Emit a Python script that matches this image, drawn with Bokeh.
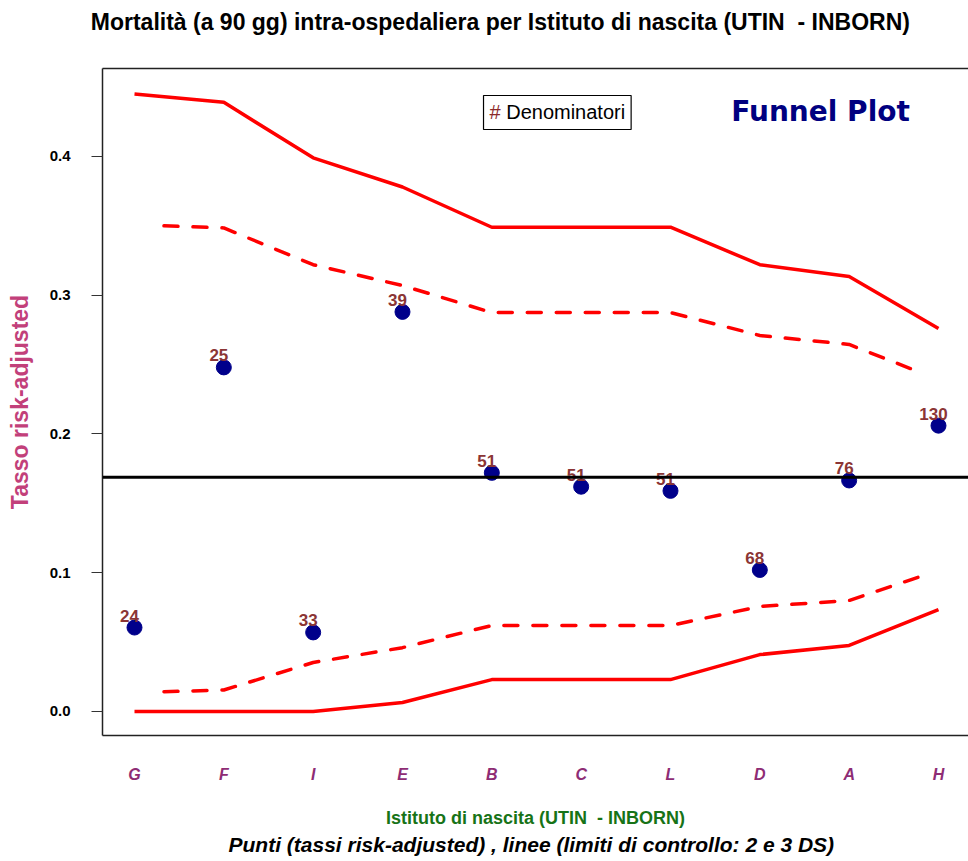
from bokeh.plotting import figure
from bokeh.models import (Range1d, LinearAxis, FixedTicker, Span, Label, Title,
                          NumeralTickFormatter, ColumnDataSource)
from bokeh.core.properties import value
from bokeh.embed import file_html
from bokeh.resources import INLINE

# ---------------- data ----------------
institutes = ["G", "F", "I", "E", "B", "C", "L", "D", "A", "H"]
denominators = [24, 25, 33, 39, 51, 51, 51, 68, 76, 130]
rates = [0.0605, 0.248, 0.057, 0.288, 0.172, 0.162, 0.159, 0.102, 0.1665, 0.206]
overall_rate = 0.1688

upper_3sd = [0.445, 0.439, 0.399, 0.378, 0.349, 0.349, 0.349, 0.322, 0.3135, 0.276]
lower_3sd = [0.0, 0.0, 0.0, 0.0065, 0.023, 0.023, 0.023, 0.041, 0.0476, 0.0735]

limit_2sd_pos = [1.33, 2, 3, 4, 5, 6, 7, 8, 9, 9.83]
upper_2sd = [0.350, 0.3485, 0.322, 0.307, 0.2875, 0.2875, 0.2875, 0.271, 0.2645, 0.2435]
lower_2sd = [0.0142, 0.0155, 0.0353, 0.046, 0.062, 0.062, 0.062, 0.0757, 0.080, 0.098]

y_ticks = [0.0, 0.1, 0.2, 0.3, 0.4]

title_text = "Mortalit\u00e0 (a 90 gg) intra-ospedaliera per Istituto di nascita (UTIN\u00a0 - INBORN)"
x_title = "Istituto di nascita (UTIN\u00a0 - INBORN)"
x_subtitle = "Punti (tassi risk-adjusted) , linee (limiti di controllo: 2 e 3 DS)"
y_title = "Tasso risk-adjusted"

pos = list(range(1, len(institutes) + 1))
FONT = "Liberation Sans"

# ---------------- figure ----------------
p = figure(frame_width=866, frame_height=667,
           min_border_left=102, min_border_right=0, min_border_top=68, min_border_bottom=126,
           x_range=Range1d(0.6418, 10.336), y_range=Range1d(-0.0173, 0.4634),
           output_backend="svg", toolbar_location=None, background_fill_color="white",
           border_fill_color="white")
p.outline_line_color = None
p.xgrid.visible = False
p.ygrid.visible = False

# x axis
xa = p.xaxis[0]
xa.ticker = FixedTicker(ticks=pos)
xa.major_label_overrides = {i: n for i, n in zip(pos, institutes)}
xa.major_label_text_font = FONT
xa.major_label_text_font_style = "bold italic"
xa.major_label_text_font_size = "16px"
xa.major_label_text_color = "#8E2C74"
xa.major_tick_out = 0
xa.major_tick_in = 0
xa.minor_tick_out = 0
xa.minor_tick_in = 0
xa.major_label_standoff = 30
xa.axis_line_color = "#222222"
xa.axis_line_width = 1.5
xa.axis_label = x_title
xa.axis_label_text_font = FONT
xa.axis_label_text_font_style = "bold"
xa.axis_label_text_font_size = "18px"
xa.axis_label_text_color = "#177317"
xa.axis_label_standoff = 22

# y axis
ya = p.yaxis[0]
ya.ticker = FixedTicker(ticks=y_ticks)
ya.formatter = NumeralTickFormatter(format="0.0")
ya.major_label_text_font = FONT
ya.major_label_text_font_style = "bold"
ya.major_label_text_font_size = "15px"
ya.major_label_text_color = "black"
ya.major_tick_out = 11
ya.major_tick_in = 0
ya.minor_tick_out = 0
ya.minor_tick_in = 0
ya.major_tick_line_color = "#333333"
ya.major_label_standoff = 21
ya.axis_line_color = "#222222"
ya.axis_line_width = 1.5
ya.axis_label = y_title
ya.axis_label_text_font = FONT
ya.axis_label_text_font_style = "bold"
ya.axis_label_text_font_size = "23px"
ya.axis_label_text_color = "#C2407A"
ya.axis_label_standoff = 14

# top frame line, carrying the main title as its label
# (trailing no-break spaces shift the centred title slightly left, as in the original)
top_axis = LinearAxis(ticker=FixedTicker(ticks=[]), major_tick_out=0, major_tick_in=0,
                      minor_tick_out=0, minor_tick_in=0, major_label_text_font_size="0px",
                      axis_line_color="#222222", axis_line_width=1.5,
                      axis_label=title_text + "\u00a0" * 11, axis_label_text_font=FONT,
                      axis_label_text_font_style="bold", axis_label_text_font_size="23px",
                      axis_label_text_color="black", axis_label_standoff=34,
                      axis_label_align="center")
p.add_layout(top_axis, "above")

# subtitle below
sub = Title(text=x_subtitle, align="left", offset=126, text_font=FONT,
            text_font_style="bold italic", text_font_size="21px", text_color="black", standoff=0)
p.add_layout(sub, "below")

# ---------------- marks ----------------
red = "#FF0000"
p.line(pos, upper_3sd, line_color=red, line_width=3.5)
p.line(pos, lower_3sd, line_color=red, line_width=3.5)
p.line(limit_2sd_pos, upper_2sd, line_color=red, line_width=3.5, line_dash="14 15", line_cap="round")
p.line(limit_2sd_pos, lower_2sd, line_color=red, line_width=3.5, line_dash="14 15", line_cap="round")

p.add_layout(Span(location=overall_rate, dimension="width", line_color="black", line_width=3))

src = ColumnDataSource(dict(x=pos, y=rates, lab=[str(d) for d in denominators]))
p.scatter("x", "y", source=src, size=15, fill_color="#00008B", line_color="#00008B")
p.text("x", "y", text="lab", source=src, x_offset=-5, y_offset=-12,
       text_align="center", text_baseline="alphabetic",
       text_font=value(FONT), text_font_style="bold", text_font_size="17px", text_color="#8B3535")

# legend-like box and "Funnel Plot" annotation
leg_box = Label(x=4.907, y=0.4317, text="\u00a0\u00a0\u00a0Denominatori", text_font=FONT,
                text_font_size="20px", text_color="black", text_baseline="middle",
                border_line_color="black", border_line_width=1.2, background_fill_color="white",
                padding=6)
p.add_layout(leg_box)
leg_hash = Label(x=4.907, y=0.4317, x_offset=6, text="#", text_font=FONT, text_font_size="20px",
                 text_color="#8B2A2A", text_baseline="middle")
p.add_layout(leg_hash)

funnel = Label(x=7.68, y=0.4324, text="Funnel Plot", text_font="DejaVu Sans",
               text_font_style="bold", text_font_size="28px", text_color="#000080",
               text_baseline="middle")
p.add_layout(funnel)

open("out.html", "w").write(file_html(p, INLINE))
